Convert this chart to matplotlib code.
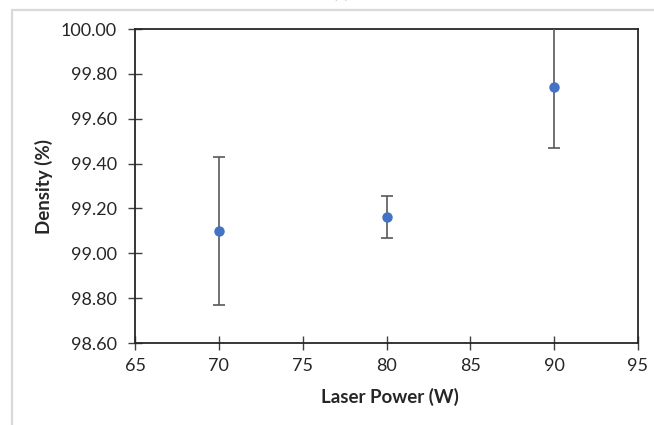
import matplotlib
matplotlib.use("Agg")
import matplotlib.pyplot as plt
from matplotlib.patches import Rectangle
from matplotlib.ticker import FormatStrFormatter

# Laser power (W) vs. relative density (%) with standard deviation
laser_power = [70, 80, 90]
density = [99.10, 99.16, 99.74]
density_err = [0.33, 0.094, 0.27]

x_ticks = [65, 70, 75, 80, 85, 90, 95]
y_ticks = [98.60, 98.80, 99.00, 99.20, 99.40, 99.60, 99.80, 100.00]

plt.rcParams['font.family'] = ['Lato', 'DejaVu Sans']

W, H = 654, 425
fig = plt.figure(figsize=(W / 100, H / 100), dpi=100)

# light chart-area border
fig.patches.append(Rectangle((12 / W, -0.05), 1.2, 1 - 10 / H + 0.05,
                             transform=fig.transFigure, fill=False,
                             edgecolor='#d9d9d9', linewidth=1.6))
fig.text(341 / W, 1 - 1 / H, '(a)', ha='center', va='bottom', fontsize=12,
         color='#404040')

L, R, T, B = 135, 638, 29, 343
ax = fig.add_axes([L / W, 1 - B / H, (R - L) / W, (B - T) / H])

ax.errorbar(laser_power, density, yerr=density_err, fmt='o',
            color='#4472C4', markersize=6.5, ecolor='#595959',
            elinewidth=1.2, capsize=4.3, capthick=1.2, zorder=3)

ax.set_xlim(65, 95)
ax.set_ylim(98.6, 100.0)
ax.set_xticks(x_ticks)
ax.set_yticks(y_ticks)
ax.yaxis.set_major_formatter(FormatStrFormatter('%.2f'))

for s in ax.spines.values():
    s.set_color('#262626')
    s.set_linewidth(1.3)

ax.tick_params(axis='both', direction='inout', length=10, width=1,
               color='#404040', labelsize=13, labelcolor='#262626')
ax.tick_params(axis='x', pad=6)
ax.tick_params(axis='y', pad=8)

ax.set_xlabel('Laser Power (W)', fontsize=13.5, fontweight='bold',
              color='#262626')
ax.set_ylabel('Density (%)', fontsize=13.5, fontweight='bold',
              color='#262626')
ax.xaxis.set_label_coords((390 - L) / (R - L), -(397 - B) / (B - T))
ax.xaxis.label.set_va('center')
ax.yaxis.set_label_coords(-(L - 44) / (R - L), 0.5)
ax.yaxis.label.set_va('center')

fig.savefig('out.png', dpi=100)
